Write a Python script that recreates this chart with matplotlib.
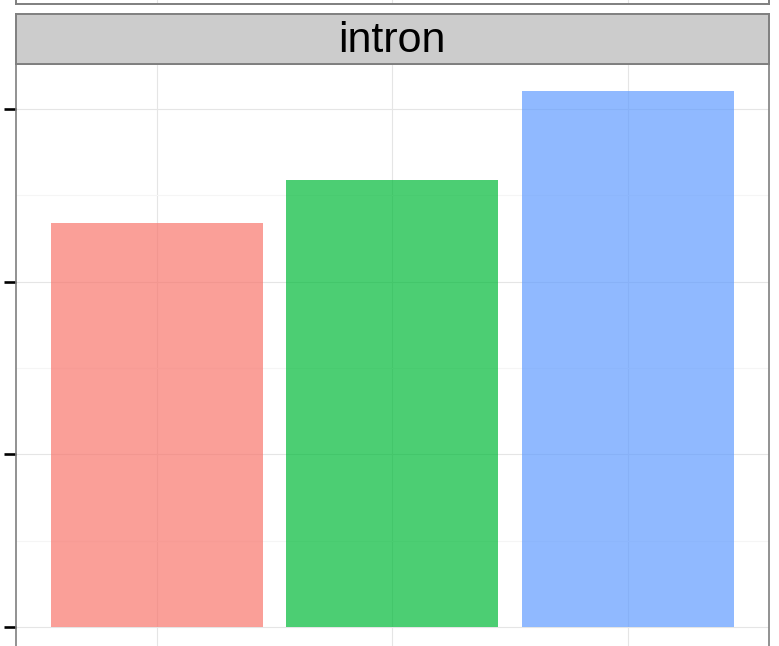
import matplotlib
matplotlib.use("Agg")
import matplotlib.pyplot as plt

# Data
categories = ["A", "B", "C"]
values = [2.338, 2.587, 3.106]
colors = ["#F8766D", "#00BA38", "#619CFF"]
strip_label = "intron"
y_ticks = [0, 1, 2, 3]
y_minor = [0.5, 1.5, 2.5]

W, H = 779, 646
fig = plt.figure(figsize=(W / 100, H / 100), dpi=100)
plt.rcParams['font.family'] = ['Liberation Sans', 'DejaVu Sans']

left_px, right_px = 15.5, 769.0
top_px, bottom_px = 64.0, 654.0
ax = fig.add_axes([left_px / W, 1 - bottom_px / H,
                   (right_px - left_px) / W, (bottom_px - top_px) / H])

x = list(range(1, len(categories) + 1))
ymax = max(values)
ax.set_xlim(0.4, len(categories) + 0.6)
ax.set_ylim(-0.05 * ymax, 1.05 * ymax)

ax.set_axisbelow(True)
ax.set_yticks(y_ticks)
ax.set_yticks(y_minor, minor=True)
ax.set_xticks(x)
ax.grid(which='major', color='#E5E5E5', linewidth=0.8)
ax.grid(which='minor', axis='y', color='#F5F5F5', linewidth=0.8)
ax.bar(x, values, width=0.9, color=colors, alpha=0.7, zorder=2)

ax.tick_params(axis='y', which='major', length=8.6, width=1.9, color='black',
               labelleft=False)
ax.tick_params(axis='y', which='minor', length=0)
ax.tick_params(axis='x', length=0, labelbottom=False)
for s in ax.spines.values():
    s.set_color('#7F7F7F')
    s.set_linewidth(1.2)

# Facet strip
strip_top, strip_bot = 13.5, 63.5
sax = fig.add_axes([left_px / W, 1 - strip_bot / H,
                    (right_px - left_px) / W, (strip_bot - strip_top) / H])
sax.set_facecolor('#CCCCCC')
sax.set_xticks([]); sax.set_yticks([])
for s in sax.spines.values():
    s.set_color('#7F7F7F')
    s.set_linewidth(1.4)
sax.text(0.5, 0.44, strip_label, ha='center', va='center', fontsize=31,
         color='black', transform=sax.transAxes)

# Bottom part of the previous panel (cropped above)
pax = fig.add_axes([left_px / W, 1 - 4 / H, (right_px - left_px) / W, 60 / H])
pax.set_xlim(0.4, len(categories) + 0.6)
pax.set_xticks(x)
pax.set_yticks([])
pax.grid(which='major', axis='x', color='#E5E5E5', linewidth=0.8)
pax.tick_params(length=0, labelbottom=False, labelleft=False)
for s in pax.spines.values():
    s.set_color('#7F7F7F')
    s.set_linewidth(1.4)

fig.savefig("out.png", dpi=100)
